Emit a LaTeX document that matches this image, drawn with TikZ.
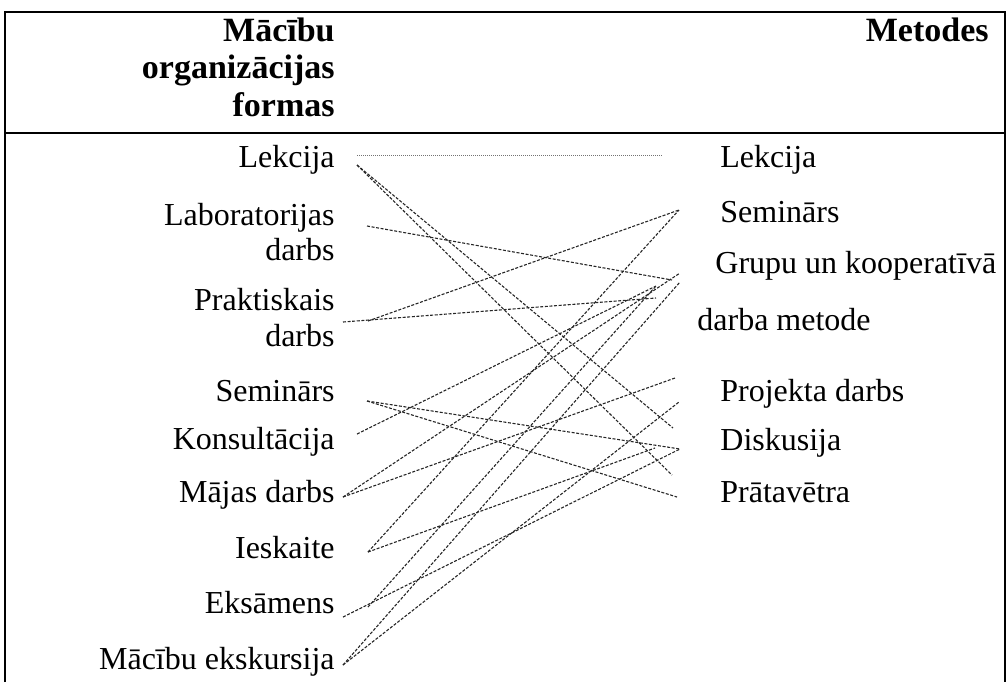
\documentclass[tikz,border=0pt]{standalone}
\usepackage{fontspec}
\setmainfont{Liberation Serif}
\begin{document}
\begin{tikzpicture}[x=0.5pt,y=-0.5pt,
  lbl/.style={font=\fontsize{16}{19}\selectfont, inner sep=0pt},
  lft/.style={lbl, anchor=mid east},
  rgt/.style={lbl, anchor=mid west},
  hdr/.style={font=\fontsize{17}{20}\selectfont\bfseries, inner sep=0pt, anchor=mid east},
  link/.style={draw=black!85, line width=0.55pt, dash pattern=on 1.5pt off 0.8pt},
  dotlink/.style={draw=black!55, line width=0.5pt, dash pattern=on 0.5pt off 0.5pt},
  rule/.style={line width=0.8pt}]
\useasboundingbox (0,0) rectangle (1008,682);

% table frame
\draw[rule] (5,682) -- (5,12) -- (1005,12) -- (1005,682);
\draw[rule] (5,133) -- (1005,133);

% header
\node[hdr] (h1) at (335,37) {Mācību};
\node[hdr] (h2) at (335,74) {organizācijas};
\node[hdr] (h3) at (335,112) {formas};
\node[hdr] (h4) at (989,37) {Metodes};

% forms of organisation
\node[lft] (f1) at (335,163) {Lekcija};
\node[lft] (f2a) at (335,221) {Laboratorijas};
\node[lft] (f2b) at (335,256) {darbs};
\node[lft] (f3a) at (335,306) {Praktiskais};
\node[lft] (f3b) at (335,342) {darbs};
\node[lft] (f4) at (335,397) {Seminārs};
\node[lft] (f5) at (335,445) {Konsultācija};
\node[lft] (f6) at (335,498) {Mājas darbs};
\node[lft] (f7) at (335,554) {Ieskaite};
\node[lft] (f8) at (335,609) {Eksāmens};
\node[lft] (f9) at (335,665) {Mācību ekskursija};

% methods
\node[rgt] (m1) at (720,163) {Lekcija};
\node[rgt] (m2) at (720,218) {Seminārs};
\node[rgt] (m3a) at (715,269) {Grupu un kooperatīvā};
\node[rgt] (m3b) at (697,326) {darba metode};
\node[rgt] (m4) at (720,397) {Projekta darbs};
\node[rgt] (m5) at (720,446) {Diskusija};
\node[rgt] (m6) at (720,498) {Prātavētra};

% line ends on the left
\coordinate (a1) at (357,155);
\coordinate (a2) at (357,165);
\coordinate (a3) at (367,226);
\coordinate (a4) at (343,322);
\coordinate (a5) at (368,321);
\coordinate (a6) at (367,401);
\coordinate (a7) at (357,434);
\coordinate (a8) at (343,497);
\coordinate (a9) at (368,552);
\coordinate (a10) at (343,617);
\coordinate (a11) at (368,607);
\coordinate (a12) at (343,665);

% line ends on the right
\coordinate (b1) at (663,155);
\coordinate (b2) at (679,210);
\coordinate (b3) at (680,273);
\coordinate (b4) at (680,282);
\coordinate (b5) at (656,286);
\coordinate (b6) at (672,280);
\coordinate (b7) at (656,298);
\coordinate (b8) at (675,378);
\coordinate (b9) at (679,402);
\coordinate (b10) at (673,428);
\coordinate (b11) at (680,449);
\coordinate (b12) at (655,448);
\coordinate (b13) at (672,475);
\coordinate (b14) at (677,497);

% connectors
\draw[dotlink] (a1) -- (b1);
\draw[link] (a2) -- (b10);
\draw[link] (a2) -- (b13);
\draw[link] (a3) -- (b6);
\draw[link] (a4) -- (b7);
\draw[link] (a5) -- (b2);
\draw[link] (a6) -- (b11);
\draw[link] (a6) -- (b14);
\draw[link] (a7) -- (b5);
\draw[link] (a8) -- (b3);
\draw[link] (a8) -- (b8);
\draw[link] (a9) -- (b2);
\draw[link] (a9) -- (b12);
\draw[link] (a10) -- (b11);
\draw[link] (a11) -- (b5);
\draw[link] (a12) -- (b9);
\draw[link] (a12) -- (b4);
\end{tikzpicture}
\end{document}
